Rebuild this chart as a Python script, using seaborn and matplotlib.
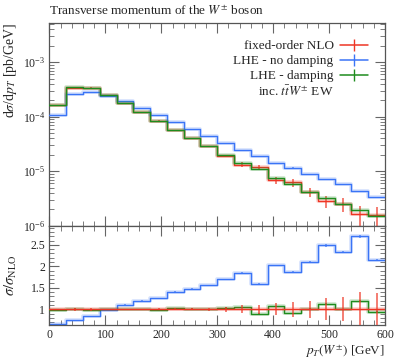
import numpy as np
import pandas as pd
import seaborn as sns
import matplotlib
matplotlib.use("Agg")
import matplotlib.pyplot as plt
from matplotlib.ticker import MultipleLocator, LogLocator, NullFormatter, FormatStrFormatter
from matplotlib.lines import Line2D

# ---------------- data ----------------
bin_edges = [0, 30, 60, 90, 120, 150, 180, 210, 240, 270, 300,
             330, 360, 390, 420, 450, 480, 510, 540, 570, 600]
nlo = [1.657e-4, 3.42e-4, 3.37e-4, 2.50e-4, 1.76e-4, 1.20e-4, 8.51e-5, 5.59e-5,
       4.04e-5, 2.86e-5, 1.904e-5, 1.327e-5, 1.20e-5, 6.92e-6, 6.28e-6, 4.14e-6,
       2.83e-6, 2.47e-6, 1.61e-6, 1.58e-6]
nlo_relerr = [0.01, 0.03, 0.03, 0.01, 0.015, 0.015, 0.02, 0.02, 0.025, 0.03,
              0.06, 0.09, 0.10, 0.14, 0.17, 0.20, 0.26, 0.28, 0.41, 0.37]
lhe_nodamp = [1.089e-4, 2.56e-4, 2.86e-4, 2.45e-4, 1.95e-4, 1.44e-4, 1.077e-4, 7.88e-5,
              5.98e-5, 4.46e-5, 3.24e-5, 2.46e-5, 1.91e-5, 1.40e-5, 1.17e-5, 8.71e-6,
              7.05e-6, 5.75e-6, 4.34e-6, 3.38e-6]
nodamp_relerr = [0.003, 0.003, 0.003, 0.003, 0.003, 0.004, 0.004, 0.005, 0.005, 0.006,
                 0.006, 0.007, 0.008, 0.008, 0.009, 0.01, 0.012, 0.012, 0.012, 0.012]
lhe_damp = [1.64e-4, 3.47e-4, 3.32e-4, 2.50e-4, 1.76e-4, 1.20e-4, 8.30e-5, 5.70e-5,
            4.10e-5, 2.86e-5, 1.98e-5, 1.40e-5, 1.08e-5, 7.40e-6, 5.75e-6, 4.20e-6,
            3.18e-6, 2.47e-6, 1.92e-6, 1.49e-6]
damp_relerr = [0.003, 0.003, 0.003, 0.003, 0.003, 0.004, 0.004, 0.005, 0.005, 0.006,
               0.006, 0.007, 0.008, 0.008, 0.009, 0.01, 0.012, 0.012, 0.012, 0.012]
labels = ["fixed-order NLO", "LHE - no damping", "LHE - damping"]
extra_label = r"inc. $t\bar{t}W^{\pm}$ EW"
xticks = [0, 100, 200, 300, 400, 500, 600]
title = r"Transverse momentum of the $W^{\pm}$ boson"

RED, BLUE, GREEN = "#ee3524", "#3a74f6", "#1e8c1e"

# ---------------- style ----------------
sns.set_theme(style="ticks")
plt.rcParams["font.family"] = ["Liberation Serif", "DejaVu Serif"]
plt.rcParams["mathtext.fontset"] = "stix"
plt.rcParams["axes.edgecolor"] = "#555555"
plt.rcParams["axes.linewidth"] = 0.9

edges = np.array(bin_edges, dtype=float)
centers = 0.5 * (edges[1:] + edges[:-1])
df = pd.DataFrame({
    "x": centers,
    "nlo": nlo, "nlo_err": np.array(nlo) * np.array(nlo_relerr),
    "nodamp": lhe_nodamp, "nodamp_err": np.array(lhe_nodamp) * np.array(nodamp_relerr),
    "damp": lhe_damp, "damp_err": np.array(lhe_damp) * np.array(damp_relerr),
})
df["r_nlo"] = df["nlo"] / df["nlo"]
df["r_nodamp"] = df["nodamp"] / df["nlo"]
df["r_damp"] = df["damp"] / df["nlo"]
df["r_nlo_err"] = df["nlo_err"] / df["nlo"]
df["r_nodamp_err"] = df["nodamp_err"] / df["nlo"]
df["r_damp_err"] = df["damp_err"] / df["nlo"]

fig = plt.figure(figsize=(3.99, 3.60), dpi=100)
ax = fig.add_axes([0.124, 0.373, 0.841, 0.563])
axr = fig.add_axes([0.124, 0.0964, 0.841, 0.2766], sharex=ax)
ax.set_yscale("log")


def step(axis, col, err, color, z):
    sns.histplot(data=df, x="x", weights=col, bins=list(bin_edges), element="step",
                 fill=False, color=color, linewidth=2.6, alpha=0.22, ax=axis, zorder=z)
    sns.histplot(data=df, x="x", weights=col, bins=list(bin_edges), element="step",
                 fill=False, color=color, linewidth=1.0, ax=axis, zorder=z + 0.1)
    axis.errorbar(df["x"], df[col], yerr=df[err], fmt="none", ecolor=color,
                  elinewidth=1.2, alpha=0.75, zorder=z + 0.05)


step(ax, "nlo", "nlo_err", RED, 2)
step(ax, "nodamp", "nodamp_err", BLUE, 3)
step(ax, "damp", "damp_err", GREEN, 4)

step(axr, "r_nodamp", "r_nodamp_err", BLUE, 2)
step(axr, "r_damp", "r_damp_err", GREEN, 3)
step(axr, "r_nlo", "r_nlo_err", RED, 4)

# axes limits
ax.set_xlim(0, 600)
ax.set_ylim(1e-6, 5.24e-3)
axr.set_ylim(0.626, 2.946)

# ticks
for a in (ax, axr):
    a.tick_params(which="both", direction="in", top=True, right=True,
                  color="#666666", labelsize=8.5, pad=3)
    a.tick_params(which="major", length=7, width=0.8)
    a.tick_params(which="minor", length=3.5, width=0.6)
    a.xaxis.set_major_locator(MultipleLocator(100))
    a.xaxis.set_minor_locator(MultipleLocator(20))

ax.yaxis.set_major_locator(LogLocator(base=10, numticks=10))
ax.yaxis.set_minor_locator(LogLocator(base=10, subs=np.arange(2, 10), numticks=20))
ax.yaxis.set_minor_formatter(NullFormatter())
ax.tick_params(axis="x", labelbottom=False)

axr.yaxis.set_major_locator(MultipleLocator(0.5))
axr.yaxis.set_minor_locator(MultipleLocator(0.1))
axr.yaxis.set_major_formatter(FormatStrFormatter("%g"))
axr.set_xticks(xticks)
axr.set_xticklabels([str(t) for t in xticks])

# labels
ax.set_xlabel("")
ax.set_ylabel(r"d$\sigma$/d$p_T$ [pb/GeV]", fontsize=10, loc="top")
ax.yaxis.set_label_coords(-0.09, 1.0)
axr.set_ylabel(r"$\sigma/\sigma_{\rm NLO}$", fontsize=10.5)
axr.yaxis.set_label_coords(-0.09, 0.5)
axr.set_xlabel(r"$p_T(W^{\pm})$ [GeV]", fontsize=9.5, loc="right", labelpad=1)
ax.set_title(title, loc="left", fontsize=9.5, pad=6)

# legend
handles = []
for c in (RED, BLUE, GREEN):
    handles.append((Line2D([], [], color=c, lw=1.1),
                    Line2D([], [], color=c, marker="|", markersize=8, linestyle="none")))
handles.append(Line2D([], [], linestyle="none"))
ax.legend(handles, labels + [extra_label], loc="upper right", frameon=False,
          markerfirst=False, fontsize=9.5, handlelength=2.1, handletextpad=0.5,
          labelspacing=0.2, borderaxespad=0.9)

fig.savefig("out.png", dpi=100)
